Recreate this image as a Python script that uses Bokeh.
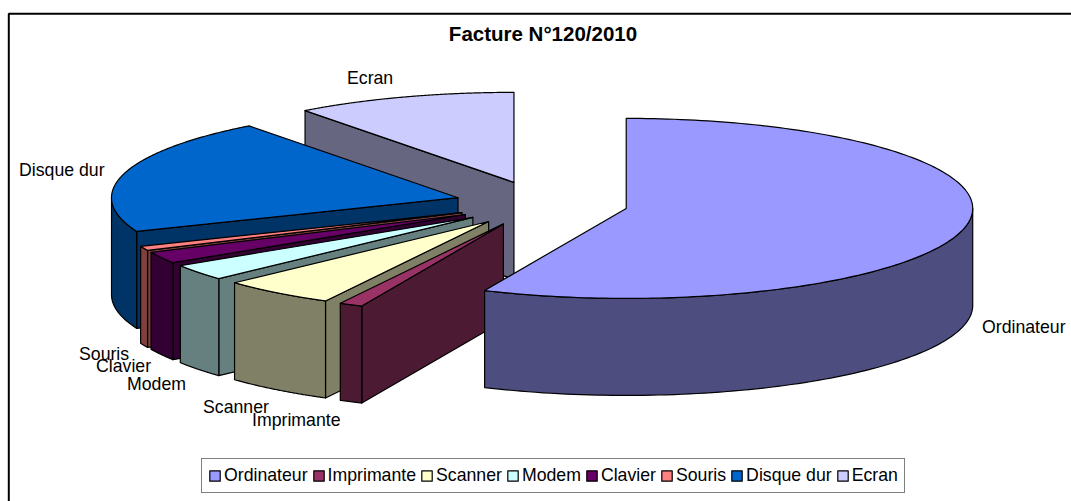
import numpy as np
from bokeh.plotting import figure
from bokeh.models import Range1d, Legend, LegendItem
from bokeh.core.properties import value
from bokeh.embed import file_html
from bokeh.resources import INLINE

TITLE = "Facture N°120/2010"
categories = ["Ordinateur", "Imprimante", "Scanner", "Modem", "Clavier", "Souris", "Disque dur", "Ecran"]
shares = [56.7, 1.1, 5.3, 2.9, 2.1, 0.8, 20.8, 10.3]
top_colors = ["#9999FF", "#993366", "#FFFFCC", "#CCFFFF", "#660066", "#FF8080", "#0066CC", "#CCCCFF"]
side_colors = ["#4D4D80", "#4D1A33", "#808066", "#668080", "#330033", "#804040", "#003366", "#666680"]

# pie geometry, in page pixels
CX, CY, RX, RY = 541.0, 203.2, 346.5, 90.0
DEPTH, EXPLODE = 97.0, 0.25
label_pos = {
    "Ordinateur": (981.5, 326), "Imprimante": (251.5, 419), "Scanner": (202.5, 406), "Modem": (126.5, 383),
    "Clavier": (95.5, 365), "Souris": (78.5, 353), "Disque dur": (18.5, 169), "Ecran": (346.5, 77),
}

p = figure(width=1071, height=501, x_range=Range1d(0, 1071), y_range=Range1d(501, 0),
           output_backend="svg", toolbar_location=None, min_border=0, outline_line_color=None,
           background_fill_color="white", border_fill_color="white")
p.axis.visible = False
p.grid.visible = False


def point(ax, ay, deg):
    t = np.radians(deg)
    return ax + RX * np.sin(t), ay - RY * np.cos(t)


def wall(p, xs, ys, color):
    xs = list(xs)
    ys = list(ys)
    wx = xs + xs[::-1]
    wy = ys + [y + DEPTH for y in ys[::-1]]
    p.patch(wx, wy, fill_color=color, line_color="black", line_width=1.2, line_join="round")


edges = 3.6 * np.concatenate([[0.0], np.cumsum(shares)])
renderers = {}
for i in reversed(range(len(categories))):
    a0, a1 = edges[i], edges[i + 1]
    mid = np.radians((a0 + a1) / 2)
    ax = CX + EXPLODE * RX * np.sin(mid)
    ay = CY - EXPLODE * RY * np.cos(mid)
    # radial walls that face the viewer
    if np.sin(np.radians(a0)) < -1e-9:
        rx, ry = point(ax, ay, a0)
        wall(p, [ax, rx], [ay, ry], side_colors[i])
    if np.sin(np.radians(a1)) > 1e-9:
        rx, ry = point(ax, ay, a1)
        wall(p, [ax, rx], [ay, ry], side_colors[i])
    # outer wall: the part of the rim on the viewer's side
    lo, hi = max(a0, 90.0), min(a1, 270.0)
    if hi > lo:
        ang = np.linspace(lo, hi, 90)
        ox, oy = point(ax, ay, ang)
        wall(p, ox, oy, side_colors[i])
    # top face
    ang = np.linspace(a0, a1, 180)
    tx, ty = point(ax, ay, ang)
    renderers[i] = p.patch([ax] + list(tx), [ay] + list(ty), fill_color=top_colors[i],
                           line_color="black", line_width=1.2, line_join="round")

# frame of the picture
p.line([8.3, 8.3, 1071], [501, 13.3, 13.3], line_color="black", line_width=2)

p.text([542.5], [33], text=[TITLE], text_font=value("Liberation Sans"), text_font_style="bold",
       text_font_size="20.5px", text_align="center", text_baseline="middle", text_color="black")

for name in categories:
    lx, ly = label_pos[name]
    p.text([lx], [ly], text=[name], text_font=value("Liberation Sans"), text_font_size="17.7px",
           text_align="left", text_baseline="middle", text_color="black")

legend = Legend(items=[LegendItem(label=n, renderers=[renderers[i]]) for i, n in enumerate(categories)],
                orientation="horizontal", location=(201, 8), glyph_width=13, glyph_height=13,
                label_standoff=3, spacing=4, padding=6, margin=0,
                label_text_font="Liberation Sans", label_text_font_size="17.7px", label_text_color="black",
                border_line_color="black", border_line_width=1.5, background_fill_color="white",
                background_fill_alpha=1)
p.add_layout(legend, "center")

open("out.html", "w").write(file_html(p, INLINE))
